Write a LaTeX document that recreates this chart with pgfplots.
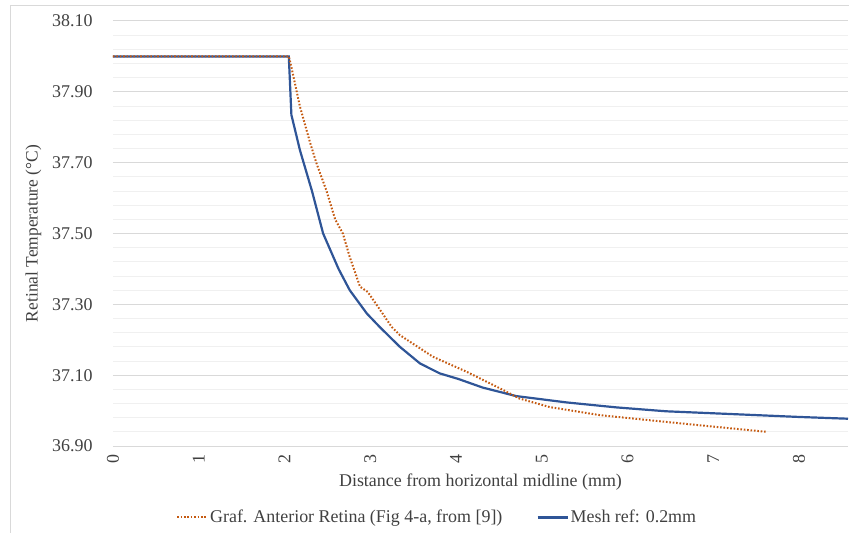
\documentclass[border=0pt]{standalone}
\usepackage{pgfplots}
\pgfplotsset{compat=1.18}
\usepackage{fontspec}
\setmainfont{Liberation Serif}
\definecolor{meshblue}{RGB}{47,85,151}
\definecolor{graforange}{RGB}{197,90,17}
\definecolor{txtgray}{RGB}{64,64,64}
\definecolor{gridmaj}{RGB}{217,217,217}
\definecolor{gridmin}{RGB}{240,240,240}
\begin{document}
\begin{tikzpicture}[font=\fontsize{18}{21}\selectfont]
\useasboundingbox (-113bp,-87bp) rectangle (736bp,446bp);
\draw[gridmaj, line width=1bp] (-102bp,-90bp) -- (-102bp,440bp) -- (740bp,440bp);
\begin{axis}[
  at={(0,0)}, anchor=south west,
  scale only axis, width=735bp, height=425bp,
  xmin=0, xmax=8.57, ymin=36.9, ymax=38.1,
  xtick={0,1,...,8},
  ytick={36.9,37.1,37.3,37.5,37.7,37.9,38.1},
  minor y tick num=4,
  ymajorgrids, yminorgrids,
  major grid style={gridmaj, line width=1bp},
  minor grid style={gridmin, line width=0.8bp},
  axis line style={draw=none},
  tick style={draw=none},
  /pgf/number format/assume math mode=true,
  yticklabel style={/pgf/number format/.cd, fixed, fixed zerofill, precision=2, /tikz/.cd, text=txtgray},
  xticklabel style={rotate=90, anchor=east, text=txtgray},
  xticklabel shift=5bp,
  yticklabel shift=17bp,
  xlabel={Distance from horizontal midline (mm)},
  ylabel={Retinal Temperature (°C)},
  xlabel style={text=txtgray, yshift=-4bp},
  ylabel style={text=txtgray, yshift=4bp, font=\fontsize{17.5}{21}\selectfont},
  legend style={at={(0.441,-0.168)}, anchor=center, legend columns=2, draw=none, fill=none,
    font=\fontsize{18}{21}\selectfont,
    text=txtgray, /tikz/every even column/.append style={column sep=32bp}},
  legend image code/.code={\draw[#1] (0bp,0bp) -- (30bp,0bp);},
]
\addplot[meshblue, line width=2.2bp, forget plot] coordinates {
(0,38.00) (2.05,38.00) (2.08,37.835) (2.18,37.735) (2.32,37.62) (2.45,37.50)
(2.63,37.40) (2.76,37.34) (2.96,37.274) (3.11,37.236) (3.345,37.18) (3.58,37.133)
(3.81,37.105) (4.03,37.089) (4.31,37.065) (4.70,37.041) (5.29,37.023) (5.87,37.009)
(6.45,36.998) (7.23,36.99) (8.0,36.982) (8.57,36.977)
};
\addplot[graforange, line width=2bp, dash pattern=on 1.6bp off 1.8bp] coordinates {
(0,38.00) (2.05,38.00) (2.08,37.97) (2.18,37.858) (2.30,37.755) (2.37,37.70)
(2.49,37.62) (2.59,37.54) (2.68,37.50) (2.76,37.434) (2.88,37.35) (2.97,37.335)
(3.07,37.30) (3.25,37.236) (3.345,37.213) (3.73,37.152) (4.12,37.11) (4.51,37.063)
(4.74,37.034) (5.09,37.01) (5.68,36.987) (6.45,36.968) (7.03,36.954) (7.62,36.94)
};
\addlegendentry{Graf. Anterior Retina (Fig 4-a, from [9])}
\addlegendimage{meshblue, line width=2.2bp}
\addlegendentry{Mesh ref: 0.2mm}
\end{axis}
\end{tikzpicture}
\end{document}
